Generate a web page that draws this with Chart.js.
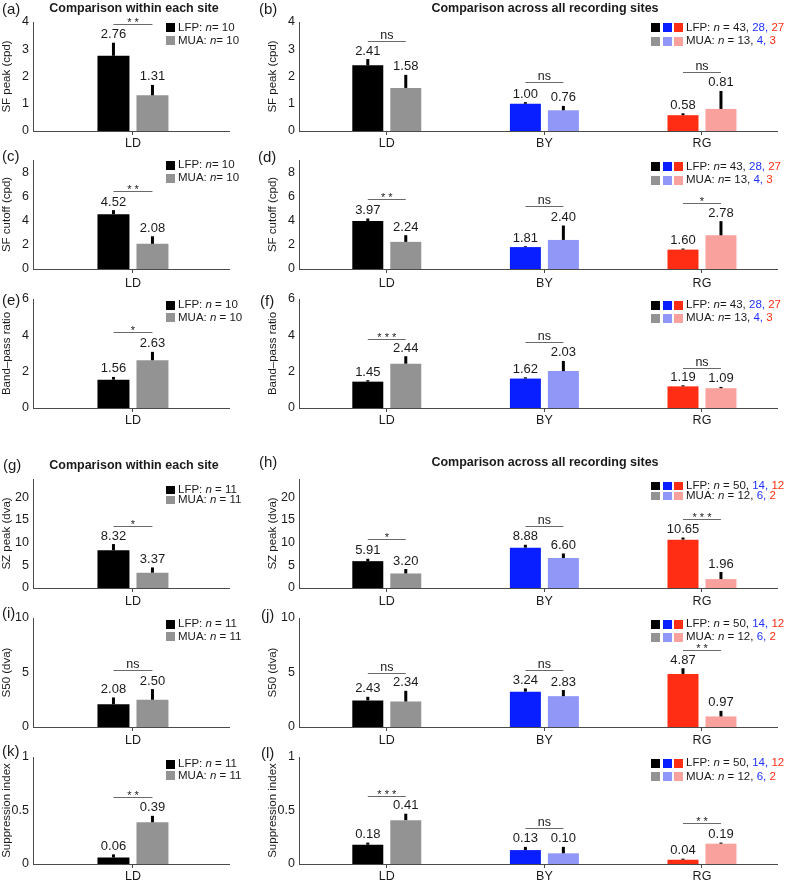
<!DOCTYPE html>
<html><head><meta charset="utf-8">
<script src="https://cdn.jsdelivr.net/npm/chart.js@4.4.1/dist/chart.umd.min.js"></script>
<style>
body{margin:0;background:#fff;width:792px;height:887px;position:relative;overflow:hidden;font-family:"Liberation Sans",Arial,Helvetica,sans-serif;color:#1a1a1a}
canvas{position:absolute}
.pl{position:absolute;font-size:15px;line-height:1;transform:translateY(-50%);white-space:nowrap}
.ttl{position:absolute;font-size:12.5px;font-weight:bold;line-height:1;transform:translate(-50%,-50%);white-space:nowrap}
.lt{position:absolute;font-size:11.5px;line-height:1;transform:translateY(-50%);white-space:nowrap}
.sq{position:absolute;width:9px;height:9px}
</style>
</head><body>
<script>
// ---------- categories & ticks ----------
const catsLeft = ['LD'];
const catsRight = ['LD', 'BY', 'RG'];
const ticksSFpeak = [0, 1, 2, 3, 4];
const ticksSFcut = [0, 2, 4, 6, 8];
const ticksBP = [0, 2, 4, 6];
const ticksSZ = [0, 5, 10, 15, 20];
const ticksS50 = [0, 5, 10];
const ticksSI = [0, 0.5, 1];

// ---------- series (means, upper error, significance) ----------
const aLFP = [2.76], aLFPerr = [0.48], aMUA = [1.31], aMUAerr = [0.38], aSig = ['**'], aSigY = [3.93];
const bLFP = [2.41, 1.00, 0.58], bLFPerr = [0.23, 0.06, 0.07], bMUA = [1.58, 0.76, 0.81], bMUAerr = [0.48, 0.16, 0.66], bSig = ['ns', 'ns', 'ns'], bSigY = [3.30, 1.80, 2.17];
const cLFP = [4.52], cLFPerr = [0.34], cMUA = [2.08], cMUAerr = [0.62], cSig = ['**'], cSigY = [6.43];
const dLFP = [3.97, 1.81, 1.60], dLFPerr = [0.20, 0.07, 0.09], dMUA = [2.24, 2.40, 2.78], dMUAerr = [0.55, 1.19, 1.17], dSig = ['**', 'ns', '*'], dSigY = [5.74, 5.19, 5.49];
const eLFP = [1.56], eLFPerr = [0.15], eMUA = [2.63], eMUAerr = [0.46], eSig = ['*'], eSigY = [4.16];
const fLFP = [1.45, 1.62, 1.19], fLFPerr = [0.08, 0.07, 0.06], fMUA = [2.44, 2.03, 1.09], fMUAerr = [0.41, 0.56, 0.07], fSig = ['***', 'ns', 'ns'], fSigY = [3.81, 3.63, 2.19];
const gLFP = [8.32], gLFPerr = [1.35], gMUA = [3.37], gMUAerr = [1.16], gSig = ['*'], gSigY = [13.76];
const hLFP = [5.91, 8.88, 10.65], hLFPerr = [0.53, 0.64, 0.47], hMUA = [3.20, 6.60, 1.96], hMUAerr = [0.98, 1.00, 1.56], hSig = ['*', 'ns', '***'], hSigY = [10.68, 13.63, 15.23];
const iLFP = [2.08], iLFPerr = [0.63], iMUA = [2.50], iMUAerr = [0.98], iSig = ['ns'], iSigY = [5.20];
const jLFP = [2.43, 3.24, 4.87], jLFPerr = [0.34, 0.30, 0.52], jMUA = [2.34, 2.83, 0.97], jMUAerr = [0.98, 0.56, 0.51], jSig = ['ns', 'ns', '**'], jSigY = [4.98, 5.26, 7.05];
const kLFP = [0.06], kLFPerr = [0.03], kMUA = [0.39], kMUAerr = [0.06], kSig = ['**'], kSigY = [0.63];
const lLFP = [0.18, 0.13, 0.04], lLFPerr = [0.02, 0.03, 0.01], lMUA = [0.41, 0.10, 0.19], lMUAerr = [0.06, 0.06, 0.01], lSig = ['***', 'ns', '**'], lSigY = [0.64, 0.34, 0.38];

// ---------- legend counts ----------
const nLeftSF = ['10', '10'];
const nRightSF = [['43', '28', '27'], ['13', '4', '3']];
const nLeftSZ = ['11', '11'];
const nRightSZ = [['50', '14', '12'], ['12', '6', '2']];

// ---------- styles ----------
const lfpColors = ['#000000', '#0a1fff', '#ff2d14'];
const muaColors = ['#939393', '#9097f7', '#f9a19c'];
const txtBlue = '#1f33ff', txtRed = '#ff2d14';
const AXIS = '#4a4a4a';
Chart.defaults.font.family = '"Liberation Sans", Arial, Helvetica, sans-serif';
Chart.defaults.color = '#1a1a1a';

function makeAnnot(p) {
  return {
    id: 'annot',
    afterDatasetsDraw(chart) {
      const ctx = chart.ctx, y = chart.scales.y;
      const m0 = chart.getDatasetMeta(0), m1 = chart.getDatasetMeta(1);
      ctx.save();
      [[m0, p.lfp, p.lfpErr], [m1, p.mua, p.muaErr]].forEach(([m, vals, errs]) => {
        m.data.forEach((bar, i) => {
          const top = y.getPixelForValue(vals[i] + errs[i]);
          ctx.strokeStyle = '#000'; ctx.lineWidth = 3;
          ctx.beginPath(); ctx.moveTo(bar.x, bar.y); ctx.lineTo(bar.x, top); ctx.stroke();
          ctx.fillStyle = '#1a1a1a'; ctx.font = '13px "Liberation Sans", Arial';
          ctx.textAlign = 'center'; ctx.textBaseline = 'alphabetic';
          ctx.fillText(vals[i].toFixed(2), bar.x, top - 4.5);
        });
      });
      p.sig.forEach((s, i) => {
        const x1 = m0.data[i].x, x2 = m1.data[i].x;
        const yy = Math.round(y.getPixelForValue(p.sigY[i])) + 0.5;
        ctx.strokeStyle = '#6a6a6a'; ctx.lineWidth = 1;
        ctx.beginPath(); ctx.moveTo(x1, yy); ctx.lineTo(x2, yy); ctx.stroke();
        ctx.fillStyle = '#1a1a1a'; ctx.textAlign = 'center'; ctx.textBaseline = 'alphabetic';
        if (s === 'ns') { ctx.font = '12.5px "Liberation Sans", Arial'; ctx.fillText(s, (x1 + x2) / 2, yy - 3); }
        else { ctx.font = '11px "Liberation Sans", Arial'; ctx.fillText(s.split('').join(' '), (x1 + x2) / 2, yy + 1.5); }
      });
      ctx.restore();
    }
  };
}

function makePanel(p) {
  const right = p.cats.length > 1;
  const left = right ? 266 : 0, width = right ? 526 : 240;
  const areaW = right ? 478 : 196;
  const top = p.top - 22, height = 22 + (p.bottom - p.top) + 24;
  const cv = document.createElement('canvas');
  cv.width = width; cv.height = height;
  cv.style.left = left + 'px'; cv.style.top = top + 'px';
  cv.style.width = width + 'px'; cv.style.height = height + 'px';
  document.body.appendChild(cv);
  const xr = right ? [-0.557, 2.476] : [-0.51, 0.49];
  const catP = right ? 0.482 : 0.398, barP = right ? 0.816 : 0.82;
  new Chart(cv, {
    type: 'bar',
    data: {
      datasets: [
        { label: 'LFP', data: p.cats.map((c, i) => ({ x: i, y: p.lfp[i] })), backgroundColor: lfpColors.slice(0, p.cats.length), borderWidth: 0, categoryPercentage: catP, barPercentage: barP },
        { label: 'MUA', data: p.cats.map((c, i) => ({ x: i, y: p.mua[i] })), backgroundColor: muaColors.slice(0, p.cats.length), borderWidth: 0, categoryPercentage: catP, barPercentage: barP }
      ]
    },
    options: {
      responsive: false, animation: false, devicePixelRatio: 1,
      layout: { padding: { top: 22, right: width - areaW - 33, bottom: 0, left: 0 } },
      plugins: { legend: { display: false }, tooltip: { enabled: false } },
      scales: {
        x: {
          type: 'linear', min: xr[0], max: xr[1], offset: false,
          grid: { display: true, drawOnChartArea: false, drawTicks: true, tickLength: 4, color: AXIS, offset: false },
          border: { display: true, color: AXIS, width: 1 },
          ticks: { font: { size: 12.5 }, padding: p.xpad, autoSkip: false, maxRotation: 0, minRotation: 0, callback: v => p.cats[v] },
          afterBuildTicks: s => { s.ticks = p.cats.map((c, i) => ({ value: i })); },
          afterFit: s => { s.height = 24; }
        },
        y: {
          min: 0, max: p.max,
          grid: { display: false, drawTicks: false },
          border: { display: true, color: AXIS, width: 1 },
          ticks: { font: { size: 12.5 }, padding: 4, callback: v => String(v) },
          afterBuildTicks: s => { s.ticks = p.ticks.map(v => ({ value: v })); },
          afterFit: s => { s.width = 33; },
          title: { display: true, text: p.ytitle, font: { size: 11.5 }, padding: 0 }
        }
      }
    },
    plugins: [makeAnnot(p)]
  });
}

function addText(cls, x, y, html) {
  const d = document.createElement('div');
  d.className = cls; d.style.left = x + 'px'; d.style.top = y + 'px'; d.innerHTML = html;
  document.body.appendChild(d);
}
function addSq(x, y, c, h) {
  const d = document.createElement('div');
  d.className = 'sq'; d.style.left = x + 'px'; d.style.top = (y - (h || 9) / 2) + 'px';
  d.style.height = (h || 9) + 'px'; d.style.background = c;
  document.body.appendChild(d);
}
function legendLeft(y1, y2, n, eq, h) {
  addSq(166, y1, lfpColors[0], h); addSq(166, y2, muaColors[0], h);
  addText('lt', 178, y1, 'LFP: <i>n</i>' + eq + n[0]);
  addText('lt', 178, y2, 'MUA: <i>n</i>' + eq + n[1]);
}
function legendRight(y1, y2, n, eq, h) {
  [0, 1, 2].forEach(k => { addSq(651 + k * 11.5, y1, lfpColors[k], h); addSq(651 + k * 11.5, y2, muaColors[k], h); });
  const row = (lab, a) => lab + ': <i>n</i>' + eq + a[0] + ', <span style="color:' + txtBlue + '">' + a[1] + ',</span> <span style="color:' + txtRed + '">' + a[2] + '</span>';
  addText('lt', 686, y1, row('LFP', n[0]));
  addText('lt', 686, y2, row('MUA', n[1]));
}

const panels = [
  { cats: catsLeft, lfp: aLFP, lfpErr: aLFPerr, mua: aMUA, muaErr: aMUAerr, sig: aSig, sigY: aSigY, top: 22, bottom: 131, max: 4, ticks: ticksSFpeak, ytitle: 'SF peak (cpd)', xpad: 1 },
  { cats: catsRight, lfp: bLFP, lfpErr: bLFPerr, mua: bMUA, muaErr: bMUAerr, sig: bSig, sigY: bSigY, top: 22, bottom: 131, max: 4, ticks: ticksSFpeak, ytitle: 'SF peak (cpd)', xpad: 1 },
  { cats: catsLeft, lfp: cLFP, lfpErr: cLFPerr, mua: cMUA, muaErr: cMUAerr, sig: cSig, sigY: cSigY, top: 160, bottom: 269, max: 9, ticks: ticksSFcut, ytitle: 'SF cutoff (cpd)', xpad: 3 },
  { cats: catsRight, lfp: dLFP, lfpErr: dLFPerr, mua: dMUA, muaErr: dMUAerr, sig: dSig, sigY: dSigY, top: 160, bottom: 269, max: 9, ticks: ticksSFcut, ytitle: 'SF cutoff (cpd)', xpad: 3 },
  { cats: catsLeft, lfp: eLFP, lfpErr: eLFPerr, mua: eMUA, muaErr: eMUAerr, sig: eSig, sigY: eSigY, top: 299, bottom: 408, max: 6, ticks: ticksBP, ytitle: 'Band\u2013pass ratio', xpad: 1 },
  { cats: catsRight, lfp: fLFP, lfpErr: fLFPerr, mua: fMUA, muaErr: fMUAerr, sig: fSig, sigY: fSigY, top: 299, bottom: 408, max: 6, ticks: ticksBP, ytitle: 'Band\u2013pass ratio', xpad: 1 },
  { cats: catsLeft, lfp: gLFP, lfpErr: gLFPerr, mua: gMUA, muaErr: gMUAerr, sig: gSig, sigY: gSigY, top: 479, bottom: 588, max: 24, ticks: ticksSZ, ytitle: 'SZ peak (dva)', xpad: 2 },
  { cats: catsRight, lfp: hLFP, lfpErr: hLFPerr, mua: hMUA, muaErr: hMUAerr, sig: hSig, sigY: hSigY, top: 479, bottom: 588, max: 24, ticks: ticksSZ, ytitle: 'SZ peak (dva)', xpad: 2 },
  { cats: catsLeft, lfp: iLFP, lfpErr: iLFPerr, mua: iMUA, muaErr: iMUAerr, sig: iSig, sigY: iSigY, top: 618, bottom: 727, max: 10, ticks: ticksS50, ytitle: 'S50 (dva)', xpad: 2 },
  { cats: catsRight, lfp: jLFP, lfpErr: jLFPerr, mua: jMUA, muaErr: jMUAerr, sig: jSig, sigY: jSigY, top: 618, bottom: 727, max: 10, ticks: ticksS50, ytitle: 'S50 (dva)', xpad: 2 },
  { cats: catsLeft, lfp: kLFP, lfpErr: kLFPerr, mua: kMUA, muaErr: kMUAerr, sig: kSig, sigY: kSigY, top: 757, bottom: 864, max: 1, ticks: ticksSI, ytitle: 'Suppression index', xpad: 1 },
  { cats: catsRight, lfp: lLFP, lfpErr: lLFPerr, mua: lMUA, muaErr: lMUAerr, sig: lSig, sigY: lSigY, top: 757, bottom: 864, max: 1, ticks: ticksSI, ytitle: 'Suppression index', xpad: 1 }
];
panels.forEach(makePanel);

// panel letters
[['(a)', 2, 8], ['(b)', 259, 8], ['(c)', 2, 155], ['(d)', 258, 156], ['(e)', 2, 299], ['(f)', 260, 300],
 ['(g)', 3, 464], ['(h)', 259, 461], ['(i)', 2, 612], ['(j)', 261, 614], ['(k)', 2, 750], ['(l)', 261, 752]]
  .forEach(([t, x, y]) => addText('pl', x, y, t));
// section titles
addText('ttl', 134, 8, 'Comparison within each site');
addText('ttl', 545, 8, 'Comparison across all recording sites');
addText('ttl', 134, 465, 'Comparison within each site');
addText('ttl', 545, 462, 'Comparison across all recording sites');
// legends
legendLeft(27.7, 40.7, nLeftSF, '= ');
legendRight(27.7, 41, nRightSF, ' = ');
legendLeft(165, 178.3, nLeftSF, '= ');
legendRight(166.7, 180, nRightSF, '= ');
legendLeft(305, 317.7, nLeftSF, ' = ');
legendRight(305, 318.3, nRightSF, '= ');
legendLeft(489.5, 499.5, nLeftSZ, ' = ', 8);
legendRight(485.7, 495.7, nRightSZ, ' = ', 8);
legendLeft(624, 636.7, nLeftSZ, ' = ');
legendRight(624.3, 637.3, nRightSZ, ' = ');
legendLeft(764, 775.7, nLeftSZ, ' = ');
legendRight(763.3, 776.7, nRightSZ, ' = ');
</script>
</body></html>
